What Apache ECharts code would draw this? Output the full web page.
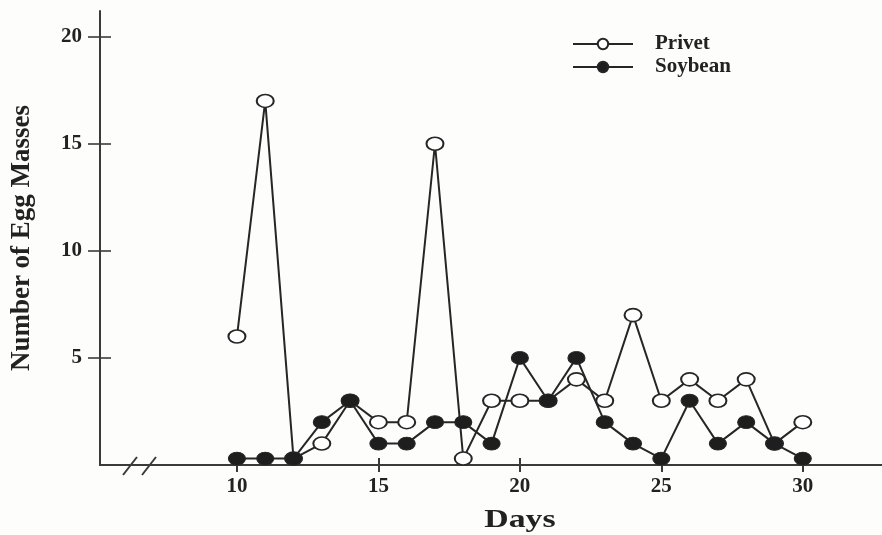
<!DOCTYPE html>
<html>
<head>
<meta charset="utf-8">
<script src="https://cdn.jsdelivr.net/npm/echarts@6/dist/echarts.min.js"></script>
<style>
html,body{margin:0;padding:0;background:#fdfdfc;}
#chart{width:882px;height:535px;}
</style>
</head>
<body>
<div id="chart"></div>
<script>
// ---- data ----
const days = [10,11,12,13,14,15,16,17,18,19,20,21,22,23,24,25,26,27,28,29,30];
// zero counts are plotted slightly above the axis in the original (~0.3)
const privet  = [6,17,0.3,1,3,2,2,15,0.3,3,3,3,4,3,7,3,4,3,4,1,2];
const soybean = [0.3,0.3,0.3,2,3,1,1,2,2,1,5,3,5,2,1,0.3,3,1,2,1,0.3];
const xTicks = [10,15,20,25,30];
const yTicks = [5,10,15,20];
const seriesNames = ['Privet','Soybean'];
const xTitle = 'Days';
const yTitle = 'Number of Egg Masses';

const ink = '#262626';
const axisInk = '#3a3a3a';
const font = '"Liberation Serif","Times New Roman",serif';
const xMin = 5.16, xMax = 32.8, yMin = 0, yMax = 21.2;

const chart = echarts.init(document.getElementById('chart'));
const pts = arr => days.map((d,i)=>[d,arr[i]]);

chart.setOption({
  backgroundColor:'#fdfdfc',
  animation:false,
  grid:{left:100,right:0,top:11,bottom:70,containLabel:false,outerBoundsMode:'none'},
  legend:{
    orient:'vertical', left:567, top:28, itemWidth:60, itemHeight:13, itemGap:1,
    data:seriesNames,
    textStyle:{fontFamily:font,fontWeight:'bold',fontSize:21,lineHeight:22,color:'#222',padding:[0,0,0,17]}
  },
  xAxis:[
    {type:'value',min:xMin,max:xMax,position:'bottom',
     axisLine:{show:true,onZero:false,lineStyle:{color:axisInk,width:2}},
     axisTick:{show:true,length:7,customValues:xTicks,lineStyle:{color:axisInk,width:2}},
     axisLabel:{show:true,margin:11,customValues:xTicks,fontFamily:font,fontWeight:'bold',fontSize:21,color:'#222'},
     splitLine:{show:false}},
    {type:'value',min:xMin,max:xMax,position:'bottom',
     axisLine:{show:false},
     axisTick:{show:true,inside:true,length:7,customValues:xTicks,lineStyle:{color:axisInk,width:2}},
     axisLabel:{show:false},splitLine:{show:false}},
    {type:'value',min:xMin,max:xMax,position:'top',
     axisLine:{show:true,lineStyle:{color:axisInk,width:2}},
     axisTick:{show:false},axisLabel:{show:false},splitLine:{show:false}}
  ],
  yAxis:[
    {type:'value',min:yMin,max:yMax,position:'left',
     name:yTitle,nameLocation:'middle',nameGap:64,nameRotate:90,
     nameTextStyle:{fontFamily:font,fontWeight:'bold',fontSize:27,color:'#222'},
     axisLine:{show:true,onZero:false,lineStyle:{color:axisInk,width:2}},
     axisTick:{show:true,length:12,customValues:yTicks,lineStyle:{color:axisInk,width:1.6}},
     axisLabel:{show:true,margin:18,customValues:yTicks,fontFamily:font,fontWeight:'bold',fontSize:21,color:'#222'},
     splitLine:{show:false}},
    {type:'value',min:yMin,max:yMax,position:'left',
     axisLine:{show:false},
     axisTick:{show:true,inside:true,length:11,customValues:yTicks,lineStyle:{color:axisInk,width:1.6}},
     axisLabel:{show:false},splitLine:{show:false}}
  ],
  series:[
    {name:seriesNames[0],type:'line',data:pts(privet),xAxisIndex:0,yAxisIndex:0,
     symbol:'circle',symbolSize:[17,13],z:2,
     lineStyle:{color:ink,width:2},
     itemStyle:{color:'#ffffff',borderColor:ink,borderWidth:1.8}},
    {name:seriesNames[1],type:'line',data:pts(soybean),xAxisIndex:0,yAxisIndex:0,
     symbol:'circle',symbolSize:[17,13],z:3,
     lineStyle:{color:ink,width:2},
     itemStyle:{color:'#1e1e1e',borderColor:ink,borderWidth:1}}
  ],
  graphic:[
    {type:'line',shape:{x1:123,y1:475,x2:137,y2:457},style:{stroke:axisInk,lineWidth:2}},
    {type:'line',shape:{x1:142,y1:475,x2:156,y2:457},style:{stroke:axisInk,lineWidth:2}},
    {type:'text',x:520,y:521,scaleX:1.35,
     style:{text:xTitle,fontFamily:font,fontWeight:'bold',fontSize:25,fill:'#222',
            align:'center',verticalAlign:'middle'}}
  ]
});
</script>
</body>
</html>
